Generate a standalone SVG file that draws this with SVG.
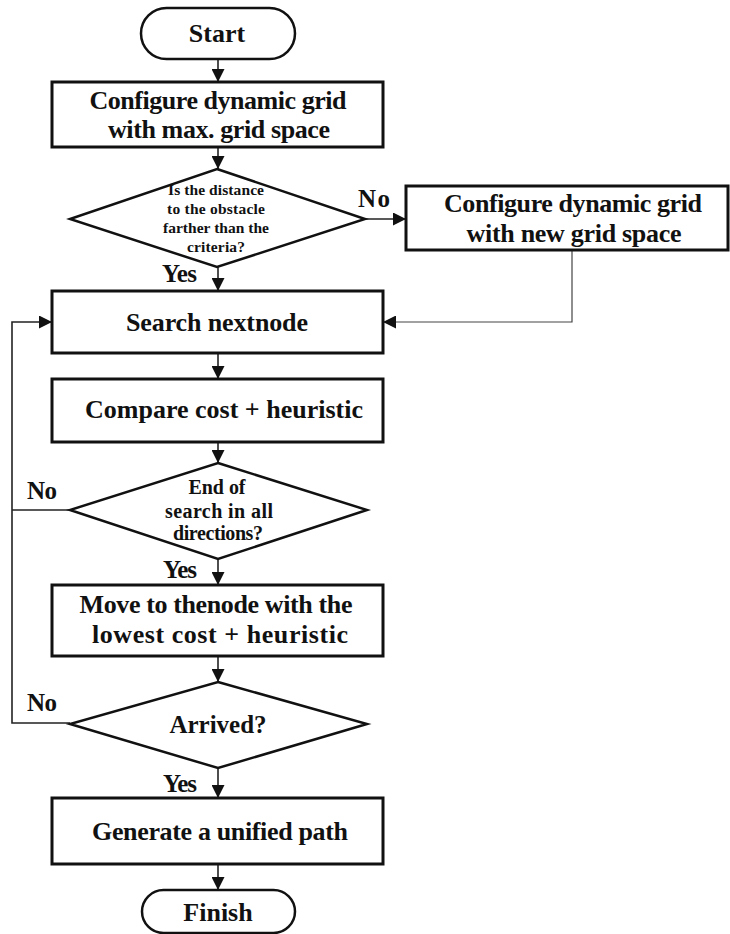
<svg xmlns="http://www.w3.org/2000/svg" width="730" height="934" viewBox="0 0 730 934">
  <style>
    .shape { fill: #ffffff; stroke: #111111; stroke-width: 3; }
    .dia { fill: #ffffff; stroke: #111111; stroke-width: 2.5; }
    .t { font-family: "Liberation Serif", "Times New Roman", serif; font-weight: bold; fill: #111111; text-anchor: middle; }
    .t26 { font-size: 26px; }
    .t25 { font-size: 25px; }
    .t20 { font-size: 20px; }
    .t16 { font-size: 15.5px; }
    .lbl { font-family: "Liberation Serif", "Times New Roman", serif; font-weight: bold; font-size: 25px; fill: #111111; }
    .edge { fill: none; stroke: #222222; stroke-width: 1.6; }
    .thin { fill: none; stroke: #444444; stroke-width: 1.2; }
  </style>
  <defs>
    <marker id="arrow" markerUnits="userSpaceOnUse" markerWidth="14" markerHeight="13" refX="13" refY="6.5" orient="auto">
      <path d="M0,0 L13,6.5 L0,13 z" fill="#111111"/>
    </marker>
  </defs>

  <rect x="0" y="0" width="730" height="934" fill="#ffffff"/>

  <!-- connectors -->
  <g id="connectors">
    <line class="edge" x1="218" y1="59" x2="218" y2="82" marker-end="url(#arrow)"/>
    <line class="edge" x1="218" y1="147" x2="218" y2="169" marker-end="url(#arrow)"/>
    <line class="edge" x1="218" y1="267" x2="218" y2="291" marker-end="url(#arrow)"/>
    <line class="edge" x1="365" y1="219" x2="406" y2="219" marker-end="url(#arrow)"/>
    <polyline class="thin" points="572,250 572,322 383,322" marker-end="url(#arrow)"/>
    <line class="edge" x1="218" y1="353" x2="218" y2="379" marker-end="url(#arrow)"/>
    <line class="edge" x1="218" y1="442" x2="218" y2="463" marker-end="url(#arrow)"/>
    <line class="edge" x1="218" y1="559" x2="218" y2="585" marker-end="url(#arrow)"/>
    <line class="edge" x1="218" y1="656" x2="218" y2="682" marker-end="url(#arrow)"/>
    <line class="edge" x1="218" y1="768" x2="218" y2="798" marker-end="url(#arrow)"/>
    <line class="edge" x1="218" y1="864" x2="218" y2="890" marker-end="url(#arrow)"/>
    <line class="edge" x1="70" y1="510" x2="12" y2="510"/>
    <polyline class="edge" points="70,723 12,723 12,322 52,322" marker-end="url(#arrow)"/>

    <text class="lbl" x="358" y="207" textLength="32">No</text>
    <text class="lbl" x="162" y="282" textLength="35">Yes</text>
    <text class="lbl" x="27" y="499" textLength="30">No</text>
    <text class="lbl" x="163" y="578" textLength="34">Yes</text>
    <text class="lbl" x="27" y="711" textLength="30">No</text>
    <text class="lbl" x="163" y="792" textLength="34">Yes</text>
  </g>

  <g id="start">
    <rect class="dia" x="141" y="8" width="154" height="51" rx="25.5" ry="25.5"/>
    <text class="t t26" x="217" y="42">Start</text>
  </g>

  <g id="config-max">
    <rect class="shape" x="52" y="82" width="331" height="65"/>
    <text class="t t26" x="218" y="109" textLength="257" lengthAdjust="spacing">Configure dynamic grid</text>
    <text class="t t26" x="219" y="138" textLength="222" lengthAdjust="spacing">with max. grid space</text>
  </g>

  <g id="check-distance">
    <polygon class="dia" points="217,169 365,219 217,267 70,219"/>
    <text class="t t16" x="216" y="195" textLength="96" lengthAdjust="spacing">Is the distance</text>
    <text class="t t16" x="216" y="214" textLength="98" lengthAdjust="spacing">to the obstacle</text>
    <text class="t t16" x="216" y="233" textLength="106" lengthAdjust="spacing">farther than the</text>
    <text class="t t16" x="216" y="252" textLength="58" lengthAdjust="spacing">criteria?</text>
  </g>

  <g id="config-new">
    <rect class="shape" x="406" y="186" width="322" height="64"/>
    <text class="t t26" x="573" y="212" textLength="258" lengthAdjust="spacing">Configure dynamic grid</text>
    <text class="t t26" x="574" y="242" textLength="215" lengthAdjust="spacing">with new grid space</text>
  </g>

  <g id="search">
    <rect class="shape" x="52" y="291" width="331" height="62"/>
    <text class="t t26" x="217" y="331" textLength="182" lengthAdjust="spacing">Search nextnode</text>
  </g>

  <g id="compare">
    <rect class="shape" x="52" y="379" width="331" height="63"/>
    <text class="t t26" x="224" y="418" textLength="278" lengthAdjust="spacing">Compare cost + heuristic</text>
  </g>

  <g id="end-search">
    <polygon class="dia" points="218,463 367,510 218,559 70,510"/>
    <text class="t t20" x="217" y="494" textLength="57" lengthAdjust="spacing">End of</text>
    <text class="t t20" x="219" y="518" textLength="108" lengthAdjust="spacing">search in all</text>
    <text class="t t20" x="218" y="540" textLength="90" lengthAdjust="spacing">directions?</text>
  </g>

  <g id="move">
    <rect class="shape" x="52" y="585" width="331" height="71"/>
    <text class="t t26" x="216" y="613" textLength="273" lengthAdjust="spacing">Move to thenode with the</text>
    <text class="t t26" x="220" y="643" textLength="256" lengthAdjust="spacing">lowest cost + heuristic</text>
  </g>

  <g id="arrived">
    <polygon class="dia" points="218,682 367,724 218,768 70,724"/>
    <text class="t t25" x="218" y="733" textLength="97" lengthAdjust="spacing">Arrived?</text>
  </g>

  <g id="generate">
    <rect class="shape" x="52" y="798" width="331" height="66"/>
    <text class="t t26" x="220" y="840" textLength="256" lengthAdjust="spacing">Generate a unified path</text>
  </g>

  <g id="finish">
    <rect class="dia" x="142" y="890" width="153" height="43" rx="21.5" ry="21.5"/>
    <text class="t t26" x="218" y="921">Finish</text>
  </g>
</svg>
